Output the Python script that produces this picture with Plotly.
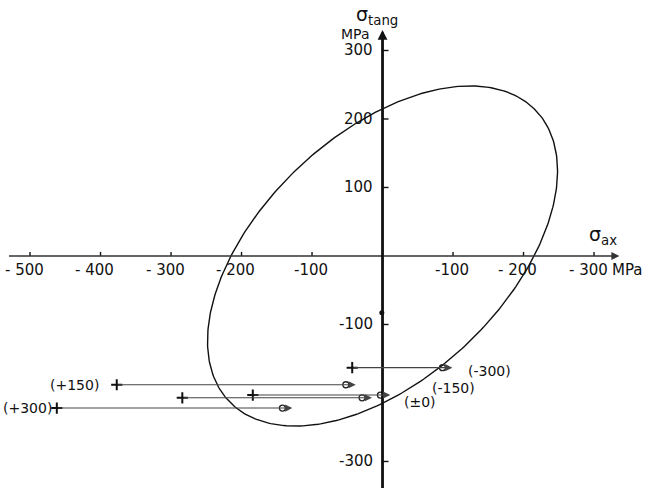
import numpy as np
import plotly.graph_objects as go

# --- data -------------------------------------------------------------
# von Mises yield stress (MPa) defining the yield ellipse
yield_stress = 215

# load paths: start (+) -> end (arrow head), axial / tangential stress in MPa
cases = ["(+300)", "(+150)", "(±0)", "(-150)", "(-300)"]
start_ax = [-462, -377, -284, -184, -43]
end_ax = [-128, -38, -15, 11, 99]
sig_tang = [-222, -188, -207, -203, -163]

# isolated point on the tangential axis
dot_ax = [-1]
dot_tang = [-83]

# axis ticks and their printed labels
x_ticks = [-500, -400, -300, -200, -100, 100, 200, 300]
x_tick_text = ["- 500", "- 400", "- 300", "- 200", "-100", "-100", "- 200", "- 300"]
y_ticks = [300, 200, 100, -100, -300]
y_tick_text = ["300", "200", "100", "-100", "-300"]

# --- figure -----------------------------------------------------------
FONT = "DejaVu Sans"
INK = "#111"
X_RANGE = [-542.6, 386.5]
Y_RANGE = [-338.7, 373.7]

fig = go.Figure()

# yield ellipse
t = np.linspace(0, 2 * np.pi, 400)
u = yield_stress * np.sqrt(2) * np.cos(t)
v = yield_stress * np.sqrt(2 / 3) * np.sin(t)
ell_ax = (u - v) / np.sqrt(2)
ell_tang = (u + v) / np.sqrt(2)
fig.add_trace(go.Scatter(x=ell_ax, y=ell_tang, mode="lines",
                         line=dict(color=INK, width=1.4),
                         hoverinfo="skip", showlegend=False))

# horizontal axis (sigma_ax)
fig.add_annotation(x=336, y=0, ax=-532, ay=0, xref="x", yref="y",
                   axref="x", ayref="y", showarrow=True, arrowhead=2,
                   arrowsize=1, arrowwidth=1.6, arrowcolor="#333", text="")
# vertical axis (sigma_tang)
fig.add_annotation(x=0, y=330, ax=0, ay=-345, xref="x", yref="y",
                   axref="x", ayref="y", showarrow=True, arrowhead=2,
                   arrowsize=0.7, arrowwidth=2.8, arrowcolor=INK, text="")

# tick marks
tx, ty = [], []
for xv in x_ticks:
    tx += [xv, xv, None]
    ty += [0, 6, None]
for yv in y_ticks:
    tx += [0, 8.5, None]
    ty += [yv, yv, None]
fig.add_trace(go.Scatter(x=tx, y=ty, mode="lines",
                         line=dict(color=INK, width=1.4),
                         hoverinfo="skip", showlegend=False))

# tick labels
for xv, txt in zip(x_ticks, x_tick_text):
    fig.add_annotation(x=xv, y=0, text=txt, showarrow=False, xanchor="center",
                       yanchor="top", yshift=-3,
                       xshift=-6 if " " in txt else -1,
                       font=dict(family=FONT, size=15, color=INK))
for yv, txt in zip(y_ticks, y_tick_text):
    fig.add_annotation(x=0, y=yv, text=txt, showarrow=False, xanchor="right",
                       yanchor="middle", xshift=-8,
                       font=dict(family=FONT, size=15, color=INK))

# axis titles
fig.add_annotation(x=0, y=1, xref="x", yref="paper", text="σ<sub>tang</sub>",
                   showarrow=False, xanchor="left", yanchor="top",
                   xshift=-29, yshift=-1,
                   font=dict(family=FONT, size=19, color=INK))
fig.add_annotation(x=0, y=1, xref="x", yref="paper", text="MPa",
                   showarrow=False, xanchor="right", yanchor="top",
                   xshift=-13, yshift=-25, borderpad=0,
                   font=dict(family=FONT, size=14, color=INK))
fig.add_annotation(x=290, y=0, text="σ<sub>ax</sub>", showarrow=False,
                   xanchor="left", yanchor="bottom", yshift=6,
                   font=dict(family=FONT, size=19, color=INK))
fig.add_annotation(x=323, y=0, text="MPa", showarrow=False,
                   xanchor="left", yanchor="top", yshift=-3,
                   font=dict(family=FONT, size=15, color=INK))

# load path arrows
for x0, x1, y in zip(start_ax, end_ax, sig_tang):
    fig.add_annotation(x=x1, y=y, ax=x0, ay=y, xref="x", yref="y",
                       axref="x", ayref="y", showarrow=True, arrowhead=2,
                       arrowsize=1.3, arrowwidth=1.1, arrowcolor="#444",
                       standoff=0, text="")
# start points
fig.add_trace(go.Scatter(x=start_ax, y=sig_tang, mode="markers",
                         marker=dict(symbol="cross-thin", size=8, color=INK,
                                     line=dict(color=INK, width=2)),
                         hoverinfo="skip", showlegend=False))
# small ring just behind each arrow head
fig.add_trace(go.Scatter(x=[e - 14 for e in end_ax], y=sig_tang, mode="markers",
                         marker=dict(symbol="circle-open", size=6, color="#222",
                                     line=dict(color="#222", width=1.3)),
                         hoverinfo="skip", showlegend=False))
fig.add_trace(go.Scatter(x=dot_ax, y=dot_tang, mode="markers",
                         marker=dict(symbol="circle", size=5, color=INK),
                         hoverinfo="skip", showlegend=False))

# case labels
label_font = dict(family=FONT, size=14, color=INK)
for name, x0, x1, y in zip(cases, start_ax, end_ax, sig_tang):
    if name in ("(+300)", "(+150)"):
        fig.add_annotation(x=x0, y=y, text=name, showarrow=False,
                           xanchor="right", yanchor="middle",
                           xshift=-3 if name == "(+300)" else -16,
                           font=label_font)
    elif name == "(-300)":
        fig.add_annotation(x=x1, y=y, text=name, showarrow=False,
                           xanchor="left", yanchor="middle", xshift=14,
                           yshift=-3, font=label_font)
    elif name == "(-150)":
        fig.add_annotation(x=x1, y=y, text=name, showarrow=False,
                           xanchor="left", yanchor="middle", xshift=40,
                           yshift=7, font=label_font)
    else:
        fig.add_annotation(x=x1, y=y, text=name, showarrow=False,
                           xanchor="left", yanchor="middle", xshift=30,
                           yshift=-4, font=label_font)

fig.update_xaxes(range=X_RANGE, visible=False, fixedrange=True)
fig.update_yaxes(range=Y_RANGE, visible=False, fixedrange=True)
fig.update_layout(width=655, height=488, margin=dict(l=0, r=0, t=0, b=0),
                  paper_bgcolor="white", plot_bgcolor="white",
                  showlegend=False)

fig.write_html("out.html")
